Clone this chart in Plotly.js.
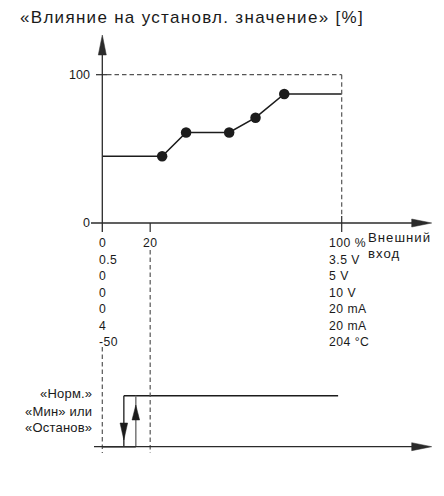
<!DOCTYPE html>
<html><head><meta charset="utf-8">
<script src="https://cdn.plot.ly/plotly-3.0.1.min.js"></script>
<style>html,body{margin:0;padding:0;background:#fff}</style>
</head><body><div id="chart" style="width:444px;height:496px"></div>
<script>
// ---- data ----
const breakX = [25, 35, 53, 64, 76];          // external input [%]
const breakY = [45, 61, 61, 71, 87];          // influence on setpoint [%]
const inputMin = 0, inputMax = 100, outputMax = 100;
const hystOff = 9, hystOn = 14, hystEnd = 98.5;
const stateLevels = [0, 1];                   // 0 = «Мин»/«Останов», 1 = «Норм.»
const midTick = 20;
const midLabel = '20';
const scaleMinLabels = ['0', '0.5', '0', '0', '0', '4', '-50'];
const scaleMaxLabels = ['100 %', '3.5 V', '5 V', '10 V', '20 mA', '20 mA', '204 °C'];
const stateLabels = ['«Норм.»', '«Мин» или', '«Останов»'];
const yTickVals = [0, 100];
const yTickText = ['0', '100'];
const titleText = '«Влияние на установл. значение» [%]';
const xAxisLabelLines = ['Внешний', 'вход'];

// ---- geometry (pixel anchors) ----
const W = 444, H = 496;
const px0 = 102.3, px100 = 341.7, py0 = 223, py100 = 74.7;
const pyLow = 446.7, pyHigh = 395.7;
const sx = (px100 - px0) / 100, sy = (py0 - py100) / 100, s2 = pyLow - pyHigh;
const X = p => (p - px0) / sx;
const Y = p => (py0 - p) / sy;
const Y2 = p => (pyLow - p) / s2;
const PX = x => px0 + x * sx;
const sp = (t, ls) => '<span style="letter-spacing:' + ls + 'px">' + t + '</span>';

const AX = '#2b2b2b', DASH = '#555555', INK = '#1c1c1c';

const shapes = [];
function seg(x0, y0, x1, y1, yref, color, width, dash) {
  shapes.push({type: 'line', xref: 'x', yref: yref, x0: x0, y0: y0, x1: x1, y1: y1,
    line: {color: color, width: width, dash: dash || 'solid'}});
}
function head(tipPx, tipPy, dir, len, half, yref, color) {
  const fy = yref === 'y2' ? Y2 : Y;
  let pts;
  if (dir === 'up') pts = [[tipPx, tipPy], [tipPx - half, tipPy + len], [tipPx + half, tipPy + len]];
  else if (dir === 'down') pts = [[tipPx, tipPy], [tipPx - half, tipPy - len], [tipPx + half, tipPy - len]];
  else pts = [[tipPx, tipPy], [tipPx - len, tipPy - half], [tipPx - len, tipPy + half]];
  const path = 'M' + pts.map(p => X(p[0]) + ',' + fy(p[1])).join('L') + 'Z';
  shapes.push({type: 'path', xref: 'x', yref: yref, path: path,
    fillcolor: color, line: {color: color, width: 0.5}});
}
const dash = '4.5px,3px';

// top panel axes
seg(0, Y(232), 0, Y(50), 'y', AX, 1.3);
head(px0, 35, 'up', 20, 4, 'y', AX);
seg(X(91), 0, X(414), 0, 'y', AX, 1.3);
head(431.7, py0, 'right', 20, 4, 'y', AX);
// ticks
seg(X(96), outputMax, X(107), outputMax, 'y', AX, 1.2);
seg(midTick, 0, midTick, Y(232), 'y', AX, 1.2);
seg(inputMax, Y(216), inputMax, Y(232), 'y', AX, 1.2);
// dashed frame
seg(X(107), outputMax, inputMax, outputMax, 'y', DASH, 1.2, dash);
seg(inputMax, outputMax, inputMax, Y(216), 'y', DASH, 1.2, dash);
// dashed guides to lower panel
seg(midTick, Y(250), midTick, Y(453), 'y', DASH, 1.2, dash);
seg(inputMin, Y(347), inputMin, Y(453), 'y', DASH, 1.2, dash);
// lower panel baseline
seg(X(94), 0, X(414), 0, 'y2', AX, 1.3);
head(431.7, pyLow, 'right', 20, 4, 'y2', AX);
// hysteresis arrowheads
head(PX(hystOff), 440, 'down', 17, 3.8, 'y2', INK);
head(PX(hystOn), 405, 'up', 15, 3.8, 'y2', INK);

// ---- traces ----
const curveX = [inputMin].concat(breakX, [inputMax]);
const curveY = [breakY[0]].concat(breakY, [breakY[breakY.length - 1]]);
const traces = [
  {x: curveX, y: curveY, mode: 'lines', line: {color: INK, width: 1.6}, hoverinfo: 'skip'},
  {x: breakX, y: breakY, mode: 'markers', marker: {color: INK, size: 10.5}, hoverinfo: 'skip'},
  {x: [hystOff, hystEnd], y: [stateLevels[1], stateLevels[1]], yaxis: 'y2', mode: 'lines',
   line: {color: INK, width: 1.5}, hoverinfo: 'skip'},
  {x: [hystOff, hystOff], y: [stateLevels[1], stateLevels[0]], yaxis: 'y2', mode: 'lines',
   line: {color: INK, width: 1.3}, hoverinfo: 'skip'},
  {x: [hystOn, hystOn], y: [stateLevels[0], stateLevels[1]], yaxis: 'y2', mode: 'lines',
   line: {color: '#777777', width: 1.5}, hoverinfo: 'skip'},
  {x: [inputMin, hystOn], y: [stateLevels[0], stateLevels[0]], yaxis: 'y2', mode: 'lines',
   line: {color: INK, width: 1.6}, hoverinfo: 'skip'}
];

// ---- text ----
const annotations = [];
function txt(text, x, y, yref, xanchor, size, xshift, align) {
  annotations.push({text: text, x: x, y: y, xref: 'x', yref: yref, xanchor: xanchor,
    yanchor: 'middle', showarrow: false, xshift: xshift || 0, align: align || xanchor,
    font: {size: size, color: '#1a1a1a'}, borderpad: 0});
}
yTickVals.forEach((v, i) => txt(yTickText[i], 0, v, 'y', 'right', 12.5, 90.5 - px0));
scaleMinLabels.forEach((t, i) => txt(sp(t, 0.4), inputMin, Y(243 + i * 16.5), 'y', 'left', 12.2, 97.5 - px0));
scaleMaxLabels.forEach((t, i) => txt(sp(t, 0.5), inputMax, Y(243 + i * 16.5), 'y', 'left', 12.2, 327.8 - px100));
txt(sp(midLabel, 0.4), midTick, Y(243), 'y', 'center', 12.2, 0);
xAxisLabelLines.forEach((t, i) => txt(sp(t, 1.0), X(366.5), Y(237 + i * 16.3), 'y', 'left', 13.2, 0));
const stateRowsPx = [393, 411.7, 427.7];
stateLabels.forEach((t, i) => txt(sp(t, 0.2), 0, Y2(stateRowsPx[i]), 'y2', 'right', 13, 93 - px0));

const layout = {
  width: W, height: H, margin: {l: 0, r: 0, t: 0, b: 0},
  paper_bgcolor: '#ffffff', plot_bgcolor: '#ffffff', showlegend: false,
  font: {family: 'Liberation Sans, Arial, sans-serif', color: '#1a1a1a'},
  title: {text: sp(titleText, 1.3), x: 20 / W, xanchor: 'left', xref: 'paper',
          y: 1 - 17 / H, yanchor: 'middle', yref: 'paper',
          font: {size: 17, color: '#1a1a1a'}},
  xaxis: {range: [X(0), X(W)], visible: false, fixedrange: true},
  yaxis: {range: [Y(H), Y(0)], visible: false, fixedrange: true},
  yaxis2: {range: [Y2(H), Y2(0)], overlaying: 'y', visible: false, fixedrange: true},
  shapes: shapes, annotations: annotations
};
Plotly.newPlot('chart', traces, layout, {staticPlot: true, displayModeBar: false});
</script></body></html>
